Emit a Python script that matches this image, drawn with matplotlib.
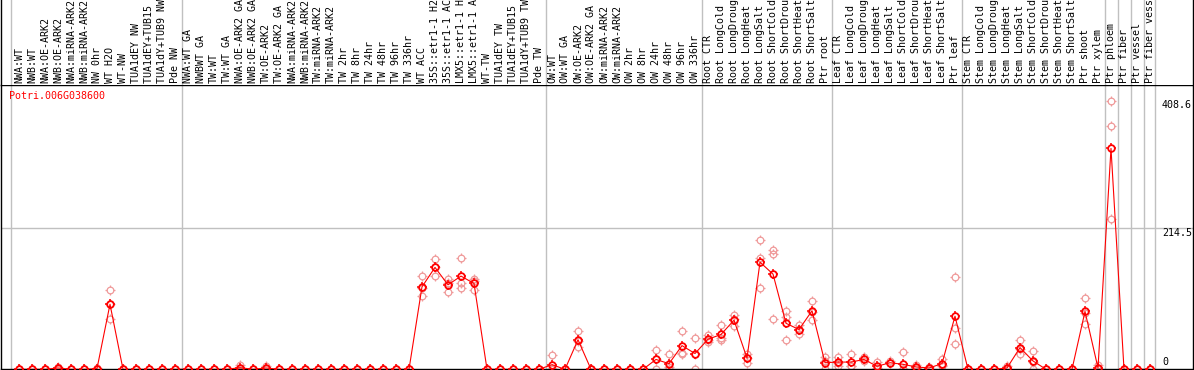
import matplotlib
matplotlib.use("Agg")
import matplotlib.pyplot as plt
from matplotlib.path import Path
import matplotlib.transforms as mtransforms

gene = "Potri.006G038600"

groups = [
    ["NWA:WT", "NWB:WT", "NWA:OE-ARK2", "NWB:OE-ARK2", "NWA:miRNA-ARK2", "NWB:miRNA-ARK2",
     "NW 0hr", "WT H2O", "WT-NW", "TUA1dEY NW", "TUA1dEY+TUB15 NW", "TUA1dY+TUB9 NW", "Pde NW"],
    ["NWA:WT GA", "NWBWT GA", "TW:WT", "TW:WT GA", "NWA:OE-ARK2 GA", "NWB:OE-ARK2 GA",
     "TW:OE-ARK2", "TW:OE-ARK2 GA", "NWA:miRNA-ARK2", "NWB:miRNA-ARK2", "TW:miRNA-ARK2",
     "TW:miRNA-ARK2", "TW 2hr", "TW 8hr", "TW 24hr", "TW 48hr", "TW 96hr", "TW 336hr",
     "WT ACC", "35S::etr1-1 H2O", "35S::etr1-1 ACC", "LMX5::etr1-1 H2O", "LMX5::etr1-1 ACC",
     "WT-TW", "TUA1dEY TW", "TUA1dEY+TUB15 TW", "TUA1dY+TUB9 TW", "Pde TW"],
    ["OW:WT", "OW:WT GA", "OW:OE-ARK2", "OW:OE-ARK2 GA", "OW:miRNA-ARK2", "OW:miRNA-ARK2",
     "OW 2hr", "OW 8hr", "OW 24hr", "OW 48hr", "OW 96hr", "OW 336hr"],
    ["Root CTR", "Root LongCold", "Root LongDrought", "Root LongHeat", "Root LongSalt",
     "Root ShortCold", "Root ShortDrought", "Root ShortHeat", "Root ShortSalt", "Ptr root"],
    ["Leaf CTR", "Leaf LongCold", "Leaf LongDrought", "Leaf LongHeat", "Leaf LongSalt",
     "Leaf ShortCold", "Leaf ShortDrought", "Leaf ShortHeat", "Leaf ShortSalt", "Ptr leaf"],
    ["Stem CTR", "Stem LongCold", "Stem LongDrought", "Stem LongHeat", "Stem LongSalt",
     "Stem ShortCold", "Stem ShortDrought", "Stem ShortHeat", "Stem ShortSalt",
     "Ptr shoot", "Ptr xylem"],
    ["Ptr phloem"], ["Ptr fiber"], ["Ptr vessel"], ["Ptr fiber vessel"],
]

# mean expression (red line)
mean_vals = (
    [0, 0, 0, 2, 0, 0, 1, 99, 0, 0, 0, 0, 0]
    + [0, 0, 0, 0, 2.5, 0, 2, 0, 0, 0, 0, 0, 0, 0, 0, 0, 0, 0,
       125.5, 155, 128.5, 141.8, 130.6, 0, 0, 0, 0, 0]
    + [7, 0, 45, 0, 0, 0, 0, 0, 15, 8.6, 36, 24]
    + [45.7, 53, 74.7, 17, 163, 144.8, 70, 60.5, 89, 10]
    + [11, 11, 15, 4.6, 10, 7.6, 3.6, 2, 8.6, 80.8]
    + [0, 0, 0, 2, 33, 12.7, 0, 0, 0, 88, 2]
    + [336, 0, 0, 0]
)

# replicates (pink circles)
rep1 = (
    [0, 0, 0, 4, 0, 0, 2, 120, 0, 0, 0, 0, 0]
    + [0, 0, 0, 0, 7, 0, 5, 0, 0, 0, 0, 0, 0, 0, 0, 0, 0, 0,
       142, 168, 137, 169, 138, 0, 0, 0, 0, 0]
    + [21, 0, 58, 0, 0, 0, 0, 0, 29, 23, 59, 48]
    + [52, 67, 82, 24, 196.6, 181, 89, 67, 103.7, 18]
    + [19, 23, 18, 11, 12, 26, 7, 4, 15, 140]
    + [0, 0, 0, 5, 44, 27.4, 0, 0, 0, 109, 6.6]
    + [408.6, 0, 0, 0]
)
rep2 = (
    [0, 0, 0, 1, 0, 0, 0, 100, 0, 0, 0, 0, 0]
    + [0, 0, 0, 0, 0.5, 0, 1, 0, 0, 0, 0, 0, 0, 0, 0, 0, 0, 0,
       111, 142, 117, 131, 120, 0, 0, 0, 0, 0]
    + [0, 0, 34, 0, 0, 0, 0, 0, 0, 0, 25, 0]
    + [41, 44, 65.5, 9.6, 123, 176, 79, 53, 75.7, 0]
    + [5, 5, 12, 1, 9, 0, 2, 1, 6, 63.5]
    + [0, 0, 0, 1, 24, 0, 0, 0, 0, 69.6, 0]
    + [370, 0, 0, 0]
)
rep3 = (
    [0, 0, 0, 1, 0, 0, 1, 76, 0, 0, 0, 0, 0]
    + [0, 0, 0, 0, 0, 0, 0, 0, 0, 0, 0, 0, 0, 0, 0, 0, 0, 0,
       124, 155, 131, 123, 134, 0, 0, 0, 0, 0]
    + [0, 0, 43, 0, 0, 0, 0, 0, 16, 3, 24, 24]
    + [44, 48, 76.6, 17.4, 169.4, 76, 44, 61.5, 87.6, 12]
    + [9, 5, 15, 2, 9, 0, 2, 1, 5, 38]
    + [0, 0, 0, 0, 31, 10.7, 0, 0, 0, 85.4, 0]
    + [229, 0, 0, 0]
)

ytick_vals = [0, 214.5, 408.6]

labels = [lab for g in groups for lab in g]
x = list(range(len(labels)))

plt.rcParams['font.family'] = ['DejaVu Sans Mono']
FS = 7.2
W, H = 1194, 370

# little stubs around each circle
verts, codes = [], []
for dx, dy in [(1, 0), (-1, 0), (0, 1), (0, -1)]:
    verts += [(dx * 0.7, dy * 0.7), (dx, dy)]
    codes += [Path.MOVETO, Path.LINETO]
stubs = Path(verts, codes)

fig = plt.figure(figsize=(W / 100, H / 100), dpi=100)

px_left, px_right = 1, 1193
px_top, px_bot = 85, 369.3
x0, step = 19, 13
xmin = (px_left - x0) / step
xmax = (px_right - x0) / step
ymax = (px_bot - px_top) / ((px_bot - 228.3) / 214.5)

ax = fig.add_axes([px_left / W, (H - px_bot) / H, (px_right - px_left) / W, (px_bot - px_top) / H])
hx = fig.add_axes([px_left / W, (H - px_top) / H, (px_right - px_left) / W, px_top / H])

for a in (ax, hx):
    a.set_xlim(xmin, xmax)
    a.set_xticks([])
    a.set_yticks([])
    for s in a.spines.values():
        s.set_color('black')
        s.set_linewidth(1.0)
ax.set_ylim(0, ymax)
hx.set_ylim(0, 1)
hx.spines['top'].set_visible(False)
hx.spines['bottom'].set_visible(False)

# group separators
bounds = [-0.65]
n = 0
for g in groups:
    n += len(g)
    bounds.append(n - 0.5)
bounds[-1] = n - 0.6
for b in bounds:
    ax.axvline(b, color='#c0c0c0', lw=1.0, zorder=1)
    hx.axvline(b, color='#c0c0c0', lw=1.0, zorder=1)

ax.axhline(ytick_vals[1], color='#c0c0c0', lw=1.0, zorder=1)

# replicates
pink = '#f09a9a'
for rep in (rep1, rep2, rep3):
    ax.plot(x, rep, ls='none', marker='o', ms=4.8, mfc='none', mec=pink, mew=0.9, zorder=2)
    ax.plot(x, rep, ls='none', marker=stubs, ms=6.8, mec=pink, mew=0.9, zorder=2)

ax.plot(x, mean_vals, color='red', lw=0.8, marker='o', ms=4.8, mfc='none', mec='red', mew=1.3, zorder=3)
ax.plot(x, mean_vals, ls='none', marker=stubs, ms=6.8, mec='red', mew=1.1, zorder=3)

# header labels
trans = mtransforms.blended_transform_factory(hx.transData, hx.transAxes)
for i, lab in enumerate(labels):
    hx.text(i, 2 / px_top, lab, rotation=90, ha='center', va='bottom', fontsize=FS,
            transform=trans, color='black')

# gene name
ax.text((9.3 - px_left) / (px_right - px_left), 1 - 11 / (px_bot - px_top), gene,
        transform=ax.transAxes, color='red', fontsize=FS, ha='left', va='center')

# value labels on the right
xl = (1162 - x0) / step
for v in ytick_vals:
    lab = f"{v:g}"
    dy = 7 if v == 0 else -4.5
    ax.annotate(lab, (xl, v), xytext=(0, dy * 0.72), textcoords='offset points',
                ha='left', va='center', fontsize=FS, color='black', annotation_clip=False)

fig.savefig("out.png", dpi=100)
